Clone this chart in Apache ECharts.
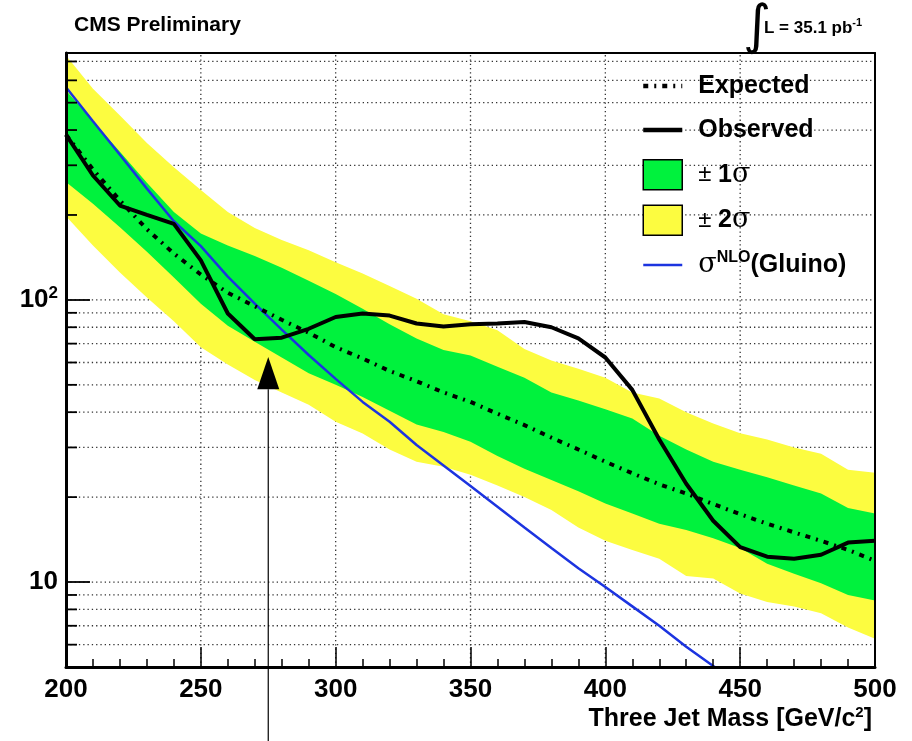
<!DOCTYPE html>
<html>
<head>
<meta charset="utf-8">
<script src="https://cdn.jsdelivr.net/npm/echarts@6/dist/echarts.min.js"></script>
<style>html,body{margin:0;padding:0;background:#fff;}#chart{width:912px;height:741px;}</style>
</head>
<body>
<div id="chart"></div>
<script>
// ---- data ----
const mass = [200,210,220,230,240,250,260,270,280,290,300,310,320,330,340,350,360,370,380,390,400,410,420,430,440,450,460,470,480,490,500];
const observed = [385,276,216,200,186,138,89.5,72.5,73.5,79,87,89.5,88,82.5,80.5,82,82.5,83.5,80,73,62.5,48,32,22.3,16.5,13.3,12.3,12.1,12.5,13.8,14.0];
const expected = [385,290,225,178,146,123,106,95,85,76.5,68,62,56,51.5,47,43.5,39.5,36,32.5,29.5,26.7,24.3,22.2,20.6,18.9,17.4,16.1,15.0,14.0,13.0,11.9];
const oneSigmaUp = [552,430,335,260,205,172,156,143,130,117,105,93,82,73,66.5,63.5,58,53,47,44,41,38,33,29.5,26.7,25,23.5,22,20.6,18.3,17.5];
const oneSigmaDown = [262,219,181,148,120,97,81,71,62.5,55,50,45.3,40.5,36.2,34,31.4,28,25.2,23,21,19,17.5,16.1,15.3,14.3,13.2,11.6,10.7,9.9,9.0,8.6];
const twoSigmaUp = [735,560,450,360,295,245,205,180,163,150,136,124,112,101,89,84,78,67,61,57,53,47,44.7,40,36.5,33.7,32,30,28.5,25,24.4];
const twoSigmaDown = [198,156,125,102,84,68,59,52,47,42.5,37,33.6,29.5,26.7,25.6,24,22,20,18,15.6,14,13,12.1,10.5,10.3,9.1,8.5,8.2,7.75,6.9,6.3];
const gluinoMass = [200,210,220,230,240,250,260,270,280,290,300,310,320,330,340,350,360,370,380,390,400,410,420,430,440,450];
const gluinoXsec = [567,430,327,248,190,155,121,97,78.5,63.8,52.5,43.5,37,30.6,25.9,21.9,18.5,15.6,13.2,11.2,9.6,8.2,7.0,5.9,5.04,4.3];
const xMin = 200, xMax = 500, xStep = 50;
const yMin = 5, yMax = 750;
const yMajorTicks = [10, 100];
const yMinorTicks = [6,7,8,9,20,30,40,50,60,70,80,90,200,300,400,500,600,700];
const xGridLines = [250,300,350,400,450];
const arrowMass = 275, arrowTip = 62.7, arrowBase = 48.2;

const FONT = 'Liberation Sans';
const green = '#00f23d', yellow = '#fcfc40', blue = '#1c34e0';

function pairs(xs, ys){ return xs.map((x,i)=>[x, ys[i]]); }

function band(name, lo, hi, color, z){
  return {
    type:'custom', name:name, silent:true, clip:true, z:z,
    itemStyle:{color:color},
    data:[[mass[0], lo[0]]], encode:{x:0,y:1},
    renderItem:function(params, api){
      const pts = [];
      for (let i=0;i<mass.length;i++) pts.push(api.coord([mass[i], hi[i]]));
      for (let i=mass.length-1;i>=0;i--) pts.push(api.coord([mass[i], lo[i]]));
      return {type:'polygon', shape:{points:pts}, style:{fill:color}};
    }
  };
}

const chart = echarts.init(document.getElementById('chart'), null, {renderer:'canvas'});
const option = {
  animation:false,
  backgroundColor:'#fff',
  title:[
    {text:'CMS Preliminary', left:74, top:15, padding:0,
     textStyle:{fontFamily:FONT, fontSize:21, fontWeight:'bold', color:'#000'}},
    {text:'∫', left:743, top:2, padding:0,
     textStyle:{fontFamily:'DejaVu Sans', fontSize:54, fontWeight:'normal', color:'#000'}},
    {text:'L = 35.1 pb{s|-1}', left:764, top:17, padding:0,
     textStyle:{fontFamily:FONT, fontSize:17, fontWeight:'bold', color:'#000', lineHeight:22,
       rich:{s:{fontFamily:FONT, fontSize:11, fontWeight:'bold', color:'#000', lineHeight:10, verticalAlign:'top'}}}}
  ],
  grid:{left:66, right:37, top:53, bottom:74, containLabel:false, outerBoundsMode:'none'},
  legend:{
    orient:'vertical', left:641, top:71, padding:0,
    itemWidth:39, itemHeight:30, itemGap:14, selectedMode:false,
    textStyle:{fontFamily:FONT, fontSize:25, fontWeight:'bold', color:'#000', lineHeight:30, padding:[0,0,0,11],
      rich:{
        pm:{fontFamily:FONT, fontSize:24, fontWeight:'normal', color:'#000', lineHeight:30},
        b:{fontFamily:FONT, fontSize:25, fontWeight:'bold', color:'#000', lineHeight:30},
        sig:{fontFamily:'DejaVu Serif', fontSize:27, fontWeight:'normal', color:'#000', lineHeight:30},
        sup:{fontFamily:FONT, fontSize:16, fontWeight:'bold', color:'#000', lineHeight:14, verticalAlign:'top'}
      }},
    formatter:function(name){
      if (name==='± 1σ') return '{pm|± }{b|1}{sig|σ}';
      if (name==='± 2σ') return '{pm|± }{b|2}{sig|σ}';
      if (name==='σNLO(Gluino)') return '{sig|σ}{sup|NLO}{b|(Gluino)}';
      return name;
    },
    data:[
      {name:'Expected', itemStyle:{opacity:0}, lineStyle:{width:4.5, color:'#000', type:[5,6,2,6]}},
      {name:'Observed', itemStyle:{opacity:0}, lineStyle:{width:4.5, color:'#000', type:'solid'}},
      {name:'± 1σ', icon:'rect', itemStyle:{color:green, borderColor:'#000', borderWidth:1.5}},
      {name:'± 2σ', icon:'rect', itemStyle:{color:yellow, borderColor:'#000', borderWidth:1.5}},
      {name:'σNLO(Gluino)', itemStyle:{opacity:0}, lineStyle:{width:2.5, color:blue, type:'solid'}}
    ]
  },
  xAxis:[
    {type:'value', min:xMin, max:xMax, interval:xStep, position:'bottom', z:10,
     axisLine:{show:true, onZero:false, lineStyle:{color:'#000', width:3}},
     axisTick:{show:true, inside:true, length:20, lineStyle:{color:'#000', width:1.5}},
     minorTick:{show:true, splitNumber:5, length:8, lineStyle:{color:'#000', width:1.5}},
     splitLine:{show:false},
     axisLabel:{fontFamily:FONT, fontSize:26, fontWeight:'bold', color:'#000', margin:10},
     name:'Three Jet Mass [GeV/c{sup|2}]', nameLocation:'end', nameGap:-3, nameMoveOverlap:false,
     nameTextStyle:{fontFamily:FONT, fontSize:25, fontWeight:'bold', color:'#000', align:'right', verticalAlign:'top',
       lineHeight:28, padding:[38,0,0,0],
       rich:{sup:{fontFamily:FONT, fontSize:15, fontWeight:'bold', color:'#000', lineHeight:14, verticalAlign:'top'}}}},
    {type:'value', min:xMin, max:xMax, position:'top', z:10,
     axisLine:{show:true, onZero:false, lineStyle:{color:'#000', width:2}},
     axisTick:{show:false}, axisLabel:{show:false}, splitLine:{show:false}}
  ],
  yAxis:[
    {type:'log', logBase:10, min:yMin, max:yMax, position:'left', z:10,
     axisLine:{show:true, onZero:false, lineStyle:{color:'#000', width:3}},
     axisTick:{show:true, inside:true, length:24, lineStyle:{color:'#000', width:1.8}},
     splitLine:{show:false}, minorTick:{show:false},
     axisLabel:{showMinLabel:false, showMaxLabel:false, margin:8,
       fontFamily:FONT, fontSize:26, fontWeight:'bold', color:'#000',
       formatter:function(v){ return Math.abs(v-100)<1e-6 ? '{n|10}{sup|2}' : (Math.abs(v-10)<1e-6 ? '{n|10}' : ''); },
       rich:{n:{fontFamily:FONT, fontSize:26, fontWeight:'bold', color:'#000', lineHeight:30},
             sup:{fontFamily:FONT, fontSize:17, fontWeight:'bold', color:'#000', lineHeight:14, verticalAlign:'top'}}}},
    {type:'log', logBase:10, min:yMin, max:yMax, position:'right', z:10,
     axisLine:{show:true, onZero:false, lineStyle:{color:'#000', width:2}},
     axisTick:{show:false}, axisLabel:{show:false}, splitLine:{show:false}}
  ],
  series:[
    // dotted grid
    {type:'custom', silent:true, clip:true, z:1, data:[[xMin, 10]], encode:{x:0,y:1},
     renderItem:function(params, api){
       const ch = [];
       const st = {stroke:'#333', lineWidth:1.3, lineDash:[1.3,3]};
       yMajorTicks.concat(yMinorTicks).forEach(function(v){
         const a = api.coord([xMin, v]), b = api.coord([xMax, v]);
         ch.push({type:'line', shape:{x1:a[0],y1:a[1],x2:b[0],y2:b[1]}, style:st});
       });
       xGridLines.forEach(function(m){
         const a = api.coord([m, yMin]), b = api.coord([m, yMax]);
         ch.push({type:'line', shape:{x1:a[0],y1:a[1],x2:b[0],y2:b[1]}, style:st});
       });
       return {type:'group', children:ch};
     }},
    band('± 2σ', twoSigmaDown, twoSigmaUp, yellow, 2),
    band('± 1σ', oneSigmaDown, oneSigmaUp, green, 3),
    // minor y ticks
    {type:'custom', silent:true, clip:false, z:9, data:[[xMin, 10]], encode:{x:0,y:1},
     renderItem:function(params, api){
       const ch = [];
       yMinorTicks.forEach(function(v){
         const a = api.coord([xMin, v]);
         ch.push({type:'line', shape:{x1:a[0],y1:a[1],x2:a[0]+11,y2:a[1]}, style:{stroke:'#000', lineWidth:1.8}});
       });
       return {type:'group', children:ch};
     }},
    {type:'line', name:'σNLO(Gluino)', data:pairs(gluinoMass, gluinoXsec), symbol:'none', clip:true, z:4, silent:true,
     lineStyle:{color:blue, width:2.5}},
    {type:'line', name:'Expected', data:pairs(mass, expected), symbol:'none', clip:true, z:5, silent:true,
     lineStyle:{color:'#000', width:4, type:[5,6,2,6]}},
    {type:'line', name:'Observed', data:pairs(mass, observed), symbol:'none', clip:true, z:6, silent:true,
     lineStyle:{color:'#000', width:4}},
    // arrow annotation
    {type:'custom', silent:true, clip:false, z:7, data:[[arrowMass, arrowTip, arrowBase]], encode:{x:0,y:1},
     renderItem:function(params, api){
       const tip = api.coord([api.value(0), api.value(1)]);
       const base = api.coord([api.value(0), api.value(2)]);
       const hw = 11;
       return {type:'group', children:[
         {type:'polygon', shape:{points:[[tip[0],tip[1]],[tip[0]-hw,base[1]],[tip[0]+hw,base[1]]]}, style:{fill:'#000'}},
         {type:'line', shape:{x1:tip[0],y1:base[1],x2:tip[0],y2:api.getHeight()}, style:{stroke:'#000', lineWidth:1.2}}
       ]};
     }}
  ]
};
chart.setOption(option);
</script>
</body>
</html>
